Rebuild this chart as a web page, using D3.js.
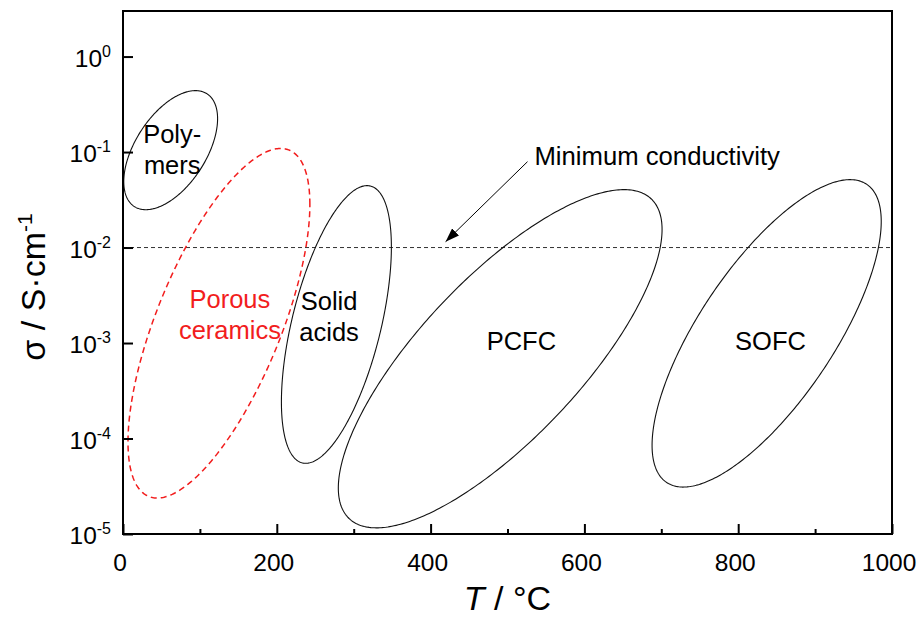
<!DOCTYPE html>
<html lang="en">
  <head>
    <meta charset="UTF-8" />
    <script src="https://d3js.org/d3.v7.min.js"></script>
    <title>Conductivity vs temperature</title>
    <style>
      body { margin: 0; background: #fff; }
      text { font-family: "Liberation Sans", Arial, sans-serif; }
    </style>
  </head>
  <body>
    <svg id="chart" width="919" height="625"></svg>

    <script>
      // regions: T range (°C), sigma range (S/cm), sigma at the left-most point
      const regions = ["Polymers", "Porous ceramics", "Solid acids", "PCFC", "SOFC"];
      const tMin = [1, 6.5, 206, 280, 688];
      const tMax = [123, 243, 349, 701, 986];
      const sigmaMin = [0.0249, 2.38e-5, 5.5e-5, 1.16e-5, 3.1e-5];
      const sigmaMax = [0.44, 0.109, 0.0445, 0.0404, 0.0514];
      const sigmaAtTMin = [0.049, 9.2e-5, 2.42e-4, 3.03e-5, 8.5e-5];

      const minConductivity = 0.01;

      const xTicks = [0, 200, 400, 600, 800, 1000];
      const xMinorTicks = [100, 300, 500, 700, 900];
      const yTicks = [1e-5, 1e-4, 1e-3, 1e-2, 1e-1, 1];

      const svg = d3.select("#chart");
      const margin = { top: 11, right: 27, bottom: 91, left: 123 };
      const width = +svg.attr("width") - margin.left - margin.right;
      const height = +svg.attr("height") - margin.top - margin.bottom;

      const g = svg.append("g").attr("transform", `translate(${margin.left},${margin.top})`);

      const x = d3.scaleLinear().domain([0, 1000]).range([0, width]);
      const y = d3.scaleLog().domain([1e-5, 3]).range([height, 0]);

      g.append("clipPath").attr("id", "clip")
        .append("rect").attr("width", width).attr("height", height);

      // minimum conductivity line
      g.append("line")
        .attr("x1", x(0)).attr("x2", x(1000))
        .attr("y1", y(minConductivity)).attr("y2", y(minConductivity))
        .attr("stroke", "#333").attr("stroke-width", 1)
        .attr("stroke-dasharray", "4,3");

      // ellipses built in (T, log sigma) space
      function ellipse(i) {
        const cT = (tMin[i] + tMax[i]) / 2, aT = (tMax[i] - tMin[i]) / 2;
        const lo = Math.log10(sigmaMin[i]), hi = Math.log10(sigmaMax[i]);
        const cL = (lo + hi) / 2, bL = (hi - lo) / 2;
        const phi = Math.acos((cL - Math.log10(sigmaAtTMin[i])) / bL);
        return d3.range(0, 2 * Math.PI, Math.PI / 180).map(t => [
          cT + aT * Math.cos(t),
          Math.pow(10, cL + bL * Math.cos(t - phi))
        ]);
      }

      const line = d3.line()
        .x(d => x(d[0]))
        .y(d => y(d[1]))
        .curve(d3.curveLinearClosed);

      g.append("g").attr("clip-path", "url(#clip)")
        .selectAll("path")
        .data(regions)
        .join("path")
        .attr("d", (d, i) => line(ellipse(i)))
        .attr("fill", "none")
        .attr("stroke", d => d === "Porous ceramics" ? "#f21d1d" : "#111")
        .attr("stroke-width", d => d === "Porous ceramics" ? 1.5 : 1.1)
        .attr("stroke-dasharray", d => d === "Porous ceramics" ? "6,4" : null);

      // region labels
      const labels = [
        { lines: ["Poly-", "mers"], T: 64, s: Math.pow(10, -0.901), color: "#000" },
        { lines: ["Porous", "ceramics"], T: 139, s: Math.pow(10, -2.631), color: "#f21d1d" },
        { lines: ["Solid", "acids"], T: 268, s: Math.pow(10, -2.652), color: "#000" },
        { lines: ["PCFC"], T: 518, s: Math.pow(10, -3.071), color: "#000" },
        { lines: ["SOFC"], T: 842, s: Math.pow(10, -3.071), color: "#000" }
      ];
      labels.forEach(l => {
        const t = g.append("text")
          .attr("text-anchor", "middle")
          .attr("font-size", 25.5)
          .attr("fill", l.color);
        l.lines.forEach((s, k) => {
          t.append("tspan")
            .attr("x", x(l.T))
            .attr("y", y(l.s) + k * 31)
            .text(s);
        });
      });

      // annotation
      svg.append("defs").append("marker")
        .attr("id", "arrow")
        .attr("markerUnits", "userSpaceOnUse")
        .attr("viewBox", "0 0 14 10")
        .attr("refX", 14).attr("refY", 5)
        .attr("markerWidth", 14).attr("markerHeight", 10)
        .attr("orient", "auto")
        .append("path").attr("d", "M0,0 L14,5 L0,10 Z").attr("fill", "#000");

      g.append("line")
        .attr("x1", x(526)).attr("y1", y(Math.pow(10, -1.101)))
        .attr("x2", x(419.5)).attr("y2", y(Math.pow(10, -1.939)))
        .attr("stroke", "#000").attr("stroke-width", 1)
        .attr("marker-end", "url(#arrow)");

      g.append("text")
        .attr("x", x(535)).attr("y", y(Math.pow(10, -1.132)))
        .attr("font-size", 25.7)
        .text("Minimum conductivity");

      // axes
      g.append("g")
        .attr("transform", `translate(0,${height})`)
        .call(d3.axisBottom(x).tickValues(xTicks).tickFormat(d3.format("d"))
          .tickSizeInner(-10).tickSizeOuter(0).tickPadding(20))
        .call(a => a.selectAll("text").attr("font-size", 24.5).attr("dx", -3.5).attr("fill", "#000")
          .attr("font-family", "Liberation Sans, Arial, sans-serif"))
        .call(a => a.selectAll(".tick line").attr("stroke-width", 2))
        .call(a => a.select(".domain").remove());

      g.append("g")
        .attr("transform", `translate(0,${height})`)
        .call(d3.axisBottom(x).tickValues(xMinorTicks).tickSizeInner(-5).tickSizeOuter(0).tickFormat(""))
        .call(a => a.selectAll(".tick line").attr("stroke-width", 2))
        .call(a => a.select(".domain").remove());

      g.append("g")
        .call(d3.axisLeft(y).tickValues(yTicks).tickSizeInner(-10).tickSizeOuter(0).tickFormat(""))
        .call(a => a.selectAll(".tick line").attr("stroke-width", 2))
        .call(a => a.select(".domain").remove());

      // y tick labels as 10^n
      yTicks.forEach(v => {
        const t = g.append("text")
          .attr("x", -12).attr("y", y(v) + 10)
          .attr("text-anchor", "end")
          .attr("font-size", 24.5);
        t.append("tspan").text("10");
        t.append("tspan")
          .attr("font-size", 16)
          .attr("dy", -10)
          .text(Math.round(Math.log10(v)));
      });

      // frame
      g.append("rect")
        .attr("width", width).attr("height", height)
        .attr("fill", "none").attr("stroke", "#000").attr("stroke-width", 2);

      // axis titles
      const xt = svg.append("text")
        .attr("x", margin.left + width / 2).attr("y", 610)
        .attr("text-anchor", "middle")
        .attr("font-size", 34);
      xt.append("tspan").attr("font-style", "italic").text("T");
      xt.append("tspan").text(" / \u00B0C");

      const yt = svg.append("text")
        .attr("transform", "translate(45,287) rotate(-90)")
        .attr("text-anchor", "middle")
        .attr("font-size", 34);
      yt.append("tspan").text("\u03C3 / S\u00B7cm");
      yt.append("tspan").attr("font-size", 21).attr("dy", -13).text("-1");
    </script>
  </body>
</html>
